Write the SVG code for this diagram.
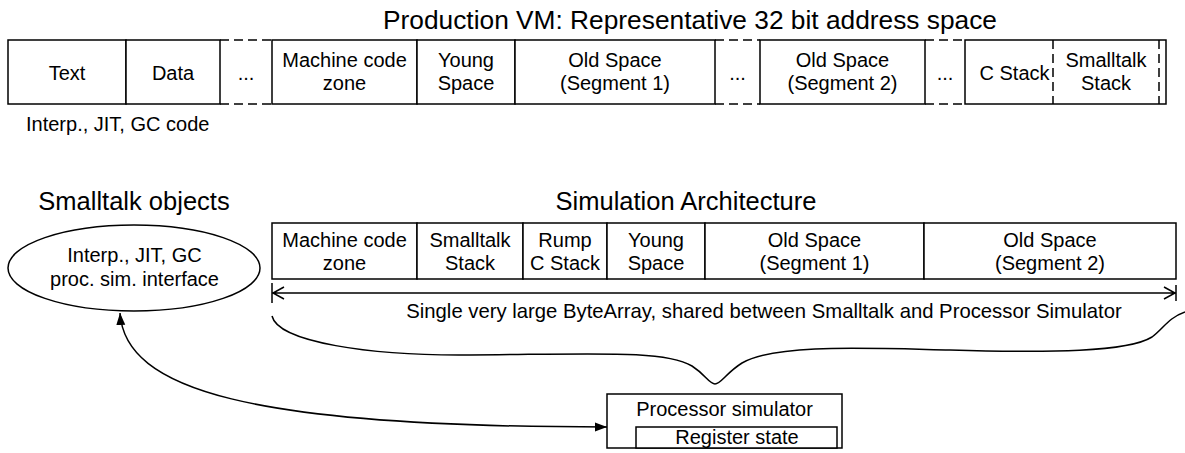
<svg xmlns="http://www.w3.org/2000/svg" width="1185" height="453" viewBox="0 0 1185 453">
<style>
text{font-family:"Liberation Sans",Arial,Helvetica,sans-serif;fill:#000}
.t{font-size:20px;text-anchor:middle}
.h{font-size:25.5px;text-anchor:middle}
.b{fill:#fff;stroke:#000;stroke-width:1.5}
.l{fill:none;stroke:#000;stroke-width:1.5}
.d{fill:none;stroke:#000;stroke-width:1.5;stroke-dasharray:9,5}
</style>
<defs>
<marker id="ah" viewBox="0 0 12 10" refX="12" refY="5" markerWidth="12" markerHeight="10" markerUnits="userSpaceOnUse" orient="auto-start-reverse">
<path d="M0,0.5 L12,5 L0,9.5 Z" fill="#000"/>
</marker>
</defs>
<rect width="1185" height="453" fill="#fff"/>

<text class="h" x="690" y="29" style="font-size:26.3px">Production VM: Representative 32 bit address space</text>

<g id="prod-text"><rect class="b" x="8" y="40" width="118" height="64"/><text class="t" x="67" y="80">Text</text></g>
<g id="prod-data"><rect class="b" x="126" y="40" width="94" height="64"/><text class="t" x="173" y="80">Data</text></g>
<g id="prod-gap1"><path class="d" d="M220,40 H272 M220,104 H272"/><text class="t" x="246" y="80">...</text></g>
<g id="prod-mcz"><rect class="b" x="272" y="40" width="145" height="64"/><text class="t" x="344.5" y="67">Machine code</text><text class="t" x="344.5" y="90">zone</text></g>
<g id="prod-young"><rect class="b" x="417" y="40" width="98" height="64"/><text class="t" x="466" y="67">Young</text><text class="t" x="466" y="90">Space</text></g>
<g id="prod-old1"><rect class="b" x="515" y="40" width="200" height="64"/><text class="t" x="615" y="67">Old Space</text><text class="t" x="615" y="90">(Segment 1)</text></g>
<g id="prod-gap2"><path class="d" d="M715,40 H760 M715,104 H760"/><text class="t" x="737.5" y="80">...</text></g>
<g id="prod-old2"><rect class="b" x="760" y="40" width="165" height="64"/><text class="t" x="842.5" y="67">Old Space</text><text class="t" x="842.5" y="90">(Segment 2)</text></g>
<g id="prod-gap3"><path class="d" d="M925,40 H965 M925,104 H965"/><text class="t" x="945" y="80">...</text></g>
<g id="prod-cstack"><rect class="b" x="965" y="40" width="201" height="64"/><text class="t" x="1014.5" y="80">C Stack</text>
<path class="d" d="M1053,40 V104 M1159,40 V104"/>
<text class="t" x="1106" y="67">Smalltalk</text><text class="t" x="1106" y="90">Stack</text></g>

<text style="font-size:20px" x="26" y="131">Interp., JIT, GC code</text>

<text class="h" x="134" y="210">Smalltalk objects</text>
<text class="h" x="686" y="210">Simulation Architecture</text>

<g id="st-objects"><ellipse class="b" cx="134" cy="268" rx="126" ry="43"/><text class="t" x="134.5" y="262">Interp., JIT, GC</text><text class="t" x="134.5" y="286">proc. sim. interface</text></g>

<g id="sim-mcz"><rect class="b" x="272" y="223" width="145" height="56"/><text class="t" x="344.5" y="247">Machine code</text><text class="t" x="344.5" y="270">zone</text></g>
<g id="sim-ststack"><rect class="b" x="417" y="223" width="106" height="56"/><text class="t" x="470" y="247">Smalltalk</text><text class="t" x="470" y="270">Stack</text></g>
<g id="sim-rump"><rect class="b" x="523" y="223" width="84" height="56"/><text class="t" x="565" y="247">Rump</text><text class="t" x="565" y="270">C Stack</text></g>
<g id="sim-young"><rect class="b" x="607" y="223" width="98" height="56"/><text class="t" x="656" y="247">Young</text><text class="t" x="656" y="270">Space</text></g>
<g id="sim-old1"><rect class="b" x="705" y="223" width="219" height="56"/><text class="t" x="814.5" y="247">Old Space</text><text class="t" x="814.5" y="270">(Segment 1)</text></g>
<g id="sim-old2"><rect class="b" x="924" y="223" width="252" height="56"/><text class="t" x="1050" y="247">Old Space</text><text class="t" x="1050" y="270">(Segment 2)</text></g>

<g id="procsim"><rect class="b" x="607" y="394" width="235" height="54"/><text class="t" x="724.5" y="416">Processor simulator</text>
<rect class="b" x="636" y="427" width="201" height="21"/><text class="t" x="737" y="444">Register state</text></g>

<g id="connectors">
<path class="l" d="M272,283 V303 M1176,285 V301 M272,293 H1176 M284,287 L273,293 L284,299 M1164,287 L1175,293 L1164,299"/>
<text class="t" x="764" y="318" style="font-size:20.3px">Single very large ByteArray, shared between Smalltalk and Processor Simulator</text>
<path class="l" d="M272,316 C278,342 370,356 470,355 C600,354 665,350 692,366 C706,375 709,384 715,384 C721,384 726,373 742,363 C775,344 860,348 950,350 C1050,353 1128,352 1152,337 C1164,328 1168,318 1185,312"/>
<path class="l" d="M120,313 C125,390 250,427 607,427" marker-start="url(#ah)" marker-end="url(#ah)"/>
</g>
</svg>
